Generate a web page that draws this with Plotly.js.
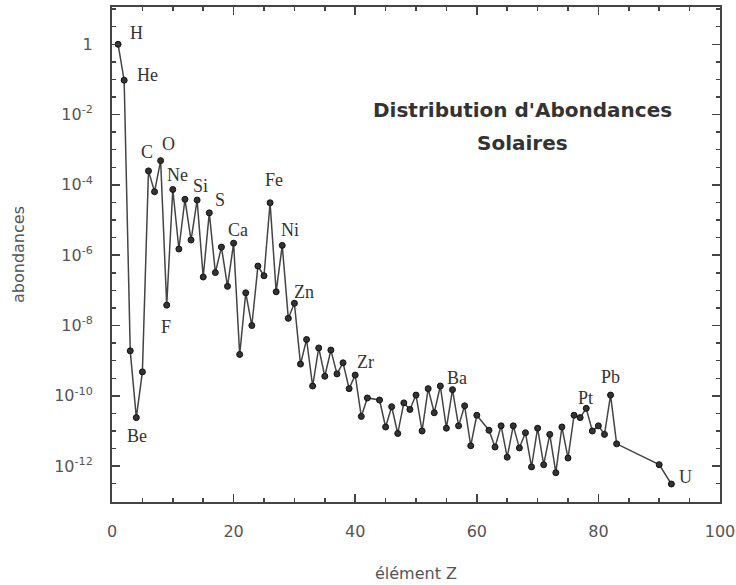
<!DOCTYPE html>
<html>
<head>
<meta charset="utf-8">
<script src="https://cdn.plot.ly/plotly-3.0.1.min.js"></script>
<style>
html,body{margin:0;padding:0;background:#fff;}
#chart{width:736px;height:585px;}
</style>
</head>
<body>
<div id="chart"></div>
<script>
// Atomic number Z of each plotted element
const elementZ = [1,2,3,4,5,6,7,8,9,10,11,12,13,14,15,16,17,18,19,20,
  21,22,23,24,25,26,27,28,29,30,31,32,33,34,35,36,37,38,39,40,41,42,
  44,45,46,47,48,49,50,51,52,53,54,55,56,57,58,59,60,
  62,63,64,65,66,67,68,69,70,71,72,73,74,75,76,77,78,79,80,81,82,83,
  90,92];

// Solar abundance (relative to H)
const abundance = [1,0.095,1.9e-9,2.4e-11,4.8e-10,2.5e-4,6.4e-5,4.9e-4,3.8e-8,7.4e-5,
  1.5e-6,3.9e-5,2.7e-6,3.7e-5,2.4e-7,1.6e-5,3.2e-7,1.7e-6,1.3e-7,2.2e-6,
  1.5e-9,8.5e-8,1.0e-8,4.9e-7,2.6e-7,3.1e-5,9.1e-8,1.9e-6,1.6e-8,4.3e-8,
  8.0e-10,4.0e-9,1.9e-10,2.3e-9,3.6e-10,2.0e-9,4.2e-10,8.7e-10,1.6e-10,3.9e-10,
  2.6e-11,8.7e-11,
  7.6e-11,1.3e-11,4.9e-11,8.5e-12,6.3e-11,4.1e-11,1.05e-10,1.0e-11,1.6e-10,3.3e-11,
  1.9e-10,1.2e-11,1.5e-10,1.4e-11,5.2e-11,3.8e-12,2.8e-11,
  1.05e-11,3.5e-12,1.4e-11,1.8e-12,1.4e-11,3.3e-12,8.9e-12,9.5e-13,1.2e-11,1.1e-12,
  8.0e-12,6.5e-13,1.3e-11,1.7e-12,2.8e-11,2.4e-11,4.4e-11,1.0e-11,1.4e-11,8.0e-12,
  1.05e-10,4.3e-12,
  1.1e-12,3.1e-13];

// Element labels drawn on the chart
const labelNames = ['H','He','C','O','Ne','Si','S','Ca','Fe','Ni','Zn','F','Be','Zr','Ba','Pt','Pb','U'];

// Title lines
const titleLines = ["Distribution d'Abondances", 'Solaires'];

// Y tick labels
const yTickVals = [1,1e-2,1e-4,1e-6,1e-8,1e-10,1e-12];
const yTickText = ['1','10<sup>-2</sup>','10<sup>-4</sup>','10<sup>-6</sup>','10<sup>-8</sup>','10<sup>-10</sup>','10<sup>-12</sup>'];

// label positions (x in Z units, y in log10 units)
const labelPos = {
  H:[4.0,0.32], He:[5.9,-0.88], C:[5.7,-3.06], O:[9.3,-2.84], Ne:[10.8,-3.72],
  Si:[14.5,-4.03], S:[17.8,-4.43], Ca:[20.8,-5.29], Fe:[26.6,-3.86], Ni:[29.3,-5.29],
  Zn:[31.6,-7.04], F:[8.9,-8.04], Be:[4.1,-11.15], Zr:[41.7,-9.03], Ba:[56.8,-9.48],
  Pt:[77.9,-10.06], Pb:[82.0,-9.46], U:[94.3,-12.3]
};

const minorY = [];
for (let k = 2; k >= -26; k--) minorY.push(Math.pow(10, k/2));

const annotations = labelNames.map(n => ({
  x: labelPos[n][0], y: labelPos[n][1], xref:'x', yref:'y',
  xanchor:'center', yanchor:'middle',
  text: n, showarrow:false,
  font:{family:'Liberation Serif, serif', size:18, color:'#333'}
}));
const titleY = [0.792, 0.725];
titleLines.forEach((t, i) => annotations.push({
  x: 0.675, y: titleY[i], xref:'paper', yref:'paper', showarrow:false,
  xanchor:'center', yanchor:'middle',
  text: '<b>' + t + '</b>',
  font:{family:'DejaVu Sans, sans-serif', size:20, color:'#333'}
}));

const trace = {
  x: elementZ, y: abundance, type:'scatter', mode:'lines+markers',
  line:{color:'#444', width:1.5},
  marker:{symbol:'circle', size:6, color:'#333', line:{color:'#111', width:1}},
  hoverinfo:'x+y'
};

const tickFont = {family:'DejaVu Sans, sans-serif', size:16, color:'#555'};

const layout = {
  width:736, height:585,
  margin:{l:112, r:16, t:7, b:83},
  paper_bgcolor:'#fff', plot_bgcolor:'#fff',
  showlegend:false,
  xaxis:{
    range:[0,100], tickmode:'linear', tick0:0, dtick:20,
    ticks:'inside', ticklen:8, tickwidth:1.5, tickcolor:'#444',
    minor:{dtick:5, ticks:'inside', ticklen:4, tickwidth:1.5, tickcolor:'#444'},
    showline:true, linecolor:'#444', linewidth:2, mirror:'ticks',
    showgrid:false, zeroline:false,
    tickfont:tickFont, ticklabelstandoff:14,
    title:{text:'élément Z', font:{family:'DejaVu Sans, sans-serif', size:16, color:'#555'}, standoff:28}
  },
  yaxis:{
    type:'log', range:[-13.02,1.06],
    tickmode:'array', tickvals:yTickVals, ticktext:yTickText,
    ticks:'inside', ticklen:8, tickwidth:1.5, tickcolor:'#444',
    minor:{tickmode:'array', tickvals:minorY, ticks:'inside', ticklen:4, tickwidth:1.5, tickcolor:'#444'},
    showline:true, linecolor:'#444', linewidth:2, mirror:'ticks',
    showgrid:false, zeroline:false,
    tickfont:tickFont, ticklabelstandoff:14,
    title:{text:'abondances', font:{family:'DejaVu Sans, sans-serif', size:16, color:'#555'}, standoff:26}
  },
  annotations: annotations
};

Plotly.newPlot('chart', [trace], layout, {displayModeBar:false, staticPlot:true});
</script>
</body>
</html>
